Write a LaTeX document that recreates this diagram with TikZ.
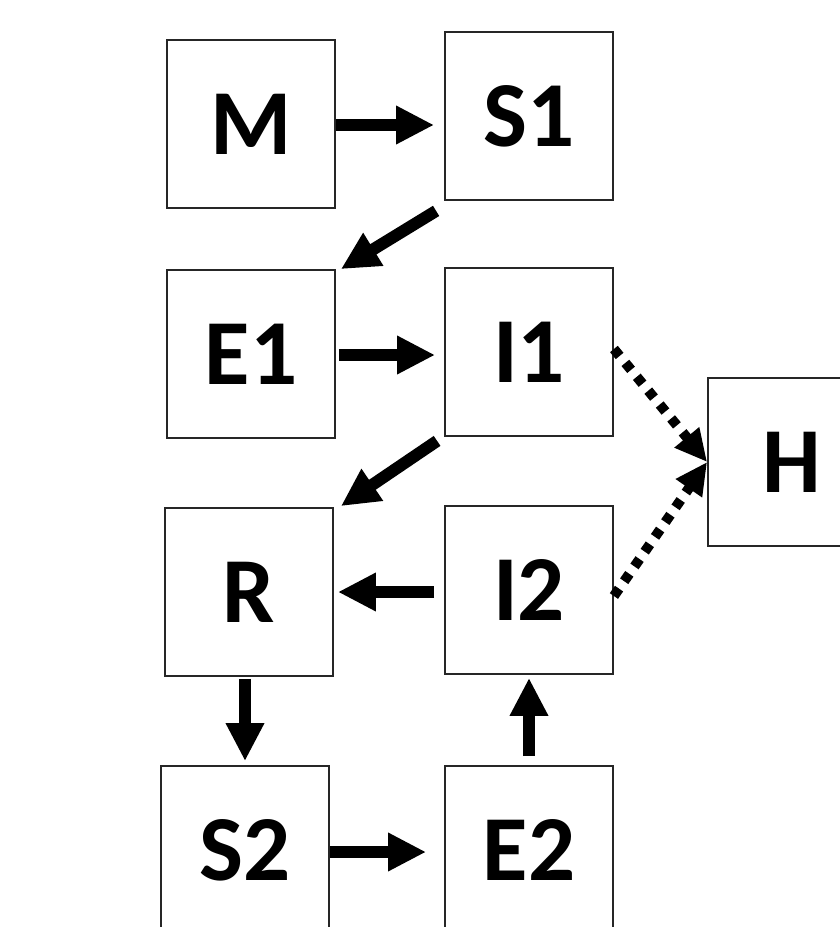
\documentclass[tikz,border=0pt]{standalone}
\usepackage{fontspec}
\setmainfont{Carlito}
\usetikzlibrary{arrows.meta,calc}
\begin{document}
\begin{tikzpicture}[x=1pt,y=-1pt,
  box/.style={draw=black!85,line width=1.8pt,minimum width=168pt,minimum height=168pt,inner sep=0pt,
    font=\fontsize{93}{93}\selectfont\bfseries},
  arr/.style={line width=12pt,-{Triangle[length=38pt,width=36pt]}},
  dotarr/.style={line width=10pt,dash pattern=on 9pt off 9pt,-{Triangle[length=32pt,width=30pt]}}]
\useasboundingbox (0,0) rectangle (840,927);
\node[box] (M) at (251,124) {M};
\node[box] (S1) at (529,116) {S1};
\node[box] (E1) at (251,354) {E1};
\node[box] (I1) at (529,352) {I1};
\node[box] (H) at (792,462) {H};
\node[box] (R) at (249,592) {R};
\node[box] (I2) at (529,590) {I2};
\node[box] (S2) at (245,850) {S2};
\node[box] (E2) at (529,850) {E2};
\draw[arr,shorten >=10pt] ([yshift=-1]M.east) -- ([yshift=-1]M.east -| S1.west);
\draw[arr] ([shift={(-8,10)}]S1.south west) -- ([shift={(5,0)}]E1.north east);
\draw[arr,shorten <=3pt,shorten >=9pt] ([yshift=-1]E1.east) -- ([yshift=-1]E1.east -| I1.west);
\draw[arr] ([shift={(-7,4)}]I1.south west) -- ([shift={(7,-1)}]R.north east);
\draw[arr,shorten <=10pt,shorten >=4pt] ([yshift=-2]I2.west) -- ([yshift=-2]I2.west -| R.east);
\draw[arr,shorten <=2pt,shorten >=4pt] (R.south -| S2.north) -- (S2.north);
\draw[arr,shorten <=9pt,shorten >=3pt] (E2.north -| I2.south) -- (I2.south);
\draw[arr,shorten >=18pt] ([yshift=-2]S2.east) -- ([yshift=-2]S2.east -| E2.west);
\draw[dotarr] ([yshift=3]I1.east) -- (H.west);
\draw[dotarr] ([yshift=-6]I2.east) -- (H.west);
\end{tikzpicture}
\end{document}
